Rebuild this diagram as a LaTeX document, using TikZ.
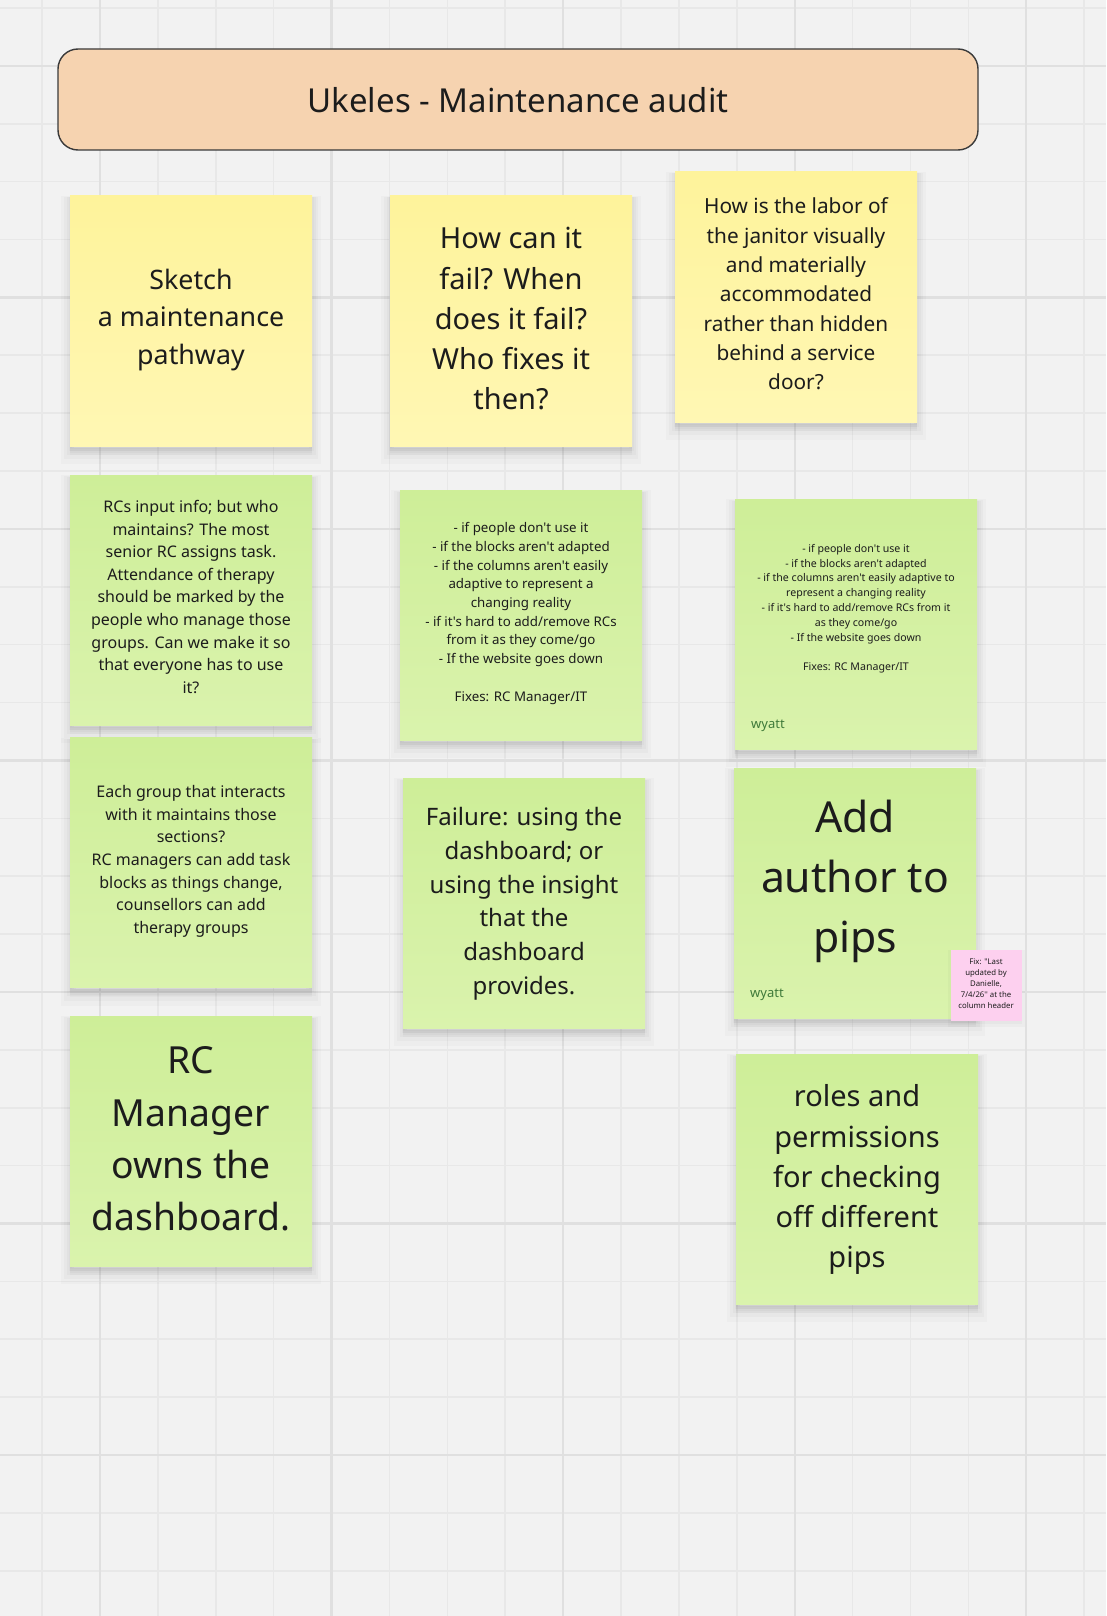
\documentclass[tikz,border=0pt]{standalone}
\usepackage{fontspec}
\newfontfamily\ns{Noto Sans}
\definecolor{bg}{HTML}{F2F2F2}
\definecolor{gridminor}{HTML}{E8E8E8}
\definecolor{gridmajor}{HTML}{E0E0E0}
\definecolor{peach}{HTML}{F6D3B0}
\definecolor{titleborder}{HTML}{3A3A3A}
\definecolor{ytop}{HTML}{FEF39B}
\definecolor{ybot}{HTML}{FFF7B4}
\definecolor{gtop}{HTML}{CEEE98}
\definecolor{gbot}{HTML}{DAF3AD}
\definecolor{pinkn}{HTML}{FDD0EF}
\definecolor{ink}{HTML}{1C1C1C}
\definecolor{authorcol}{HTML}{3F7A3A}
\tikzset{
  softshadow/.style={
    preaction={fill=black, fill opacity=0.02, draw=black, draw opacity=0.02, line width=18pt, transform canvas={yshift=-9pt}},
    preaction={fill=black, fill opacity=0.022, draw=black, draw opacity=0.022, line width=12pt, transform canvas={yshift=-7pt}},
    preaction={fill=black, fill opacity=0.022, draw=black, draw opacity=0.022, line width=7pt, transform canvas={yshift=-5pt}},
    preaction={fill=black, fill opacity=0.02, draw=black, draw opacity=0.02, line width=3pt, transform canvas={yshift=-3pt}}},
  stickybox/.style={minimum width=242pt, minimum height=250pt, inner sep=0pt, softshadow},
  yellownote/.style={stickybox, top color=ytop, bottom color=ybot},
  greennote/.style={stickybox, top color=gtop, bottom color=gbot},
  pinknote/.style={minimum width=71pt, minimum height=71pt, inner sep=0pt, fill=pinkn,
    preaction={fill=black, fill opacity=0.025, draw=black, draw opacity=0.025, line width=6pt, transform canvas={yshift=-3pt}}},
  notetext/.style={align=center, text=ink, inner sep=0pt,
    execute at begin node=\strut, execute at end node=\strut},
  authortext/.style={anchor=base west, text=authorcol, inner sep=0pt, font=\ns\fontsize{13}{16}\selectfont},
  titlebox/.style={draw=titleborder, line width=1.4pt, fill=peach, rounded corners=20pt,
    minimum width=920pt, minimum height=101pt, inner sep=0pt},
  minorline/.style={draw=gridminor, line width=1.6pt},
  majorline/.style={draw=gridmajor, line width=2.2pt},
}
\begin{document}
\begin{tikzpicture}[x=1pt,y=-1pt]
\path[use as bounding box, fill=bg] (0,0) rectangle (1106,1616);
% grid
\foreach \k in {0,...,18} {\pgfmathsetmacro\xx{42+57.9*\k}\draw[minorline] (\xx,0) -- (\xx,1616);}
\foreach \k in {0,...,27} {\pgfmathsetmacro\yy{8+57.88*\k}\draw[minorline] (0,\yy) -- (1106,\yy);}
\foreach \k in {1,5,9,13,17} {\pgfmathsetmacro\xx{42+57.9*\k}\draw[majorline] (\xx,0) -- (\xx,1616);}
\foreach \k in {1,5,9,13,17,21,25} {\pgfmathsetmacro\yy{8+57.88*\k}\draw[majorline] (0,\yy) -- (1106,\yy);}

% title
\node[titlebox] (title) at (518,99.5) {};
\node[anchor=base, inner sep=0pt, text=ink, font=\ns\fontsize{33}{40}\selectfont] (titletext) at (518,113) {Ukeles - Maintenance audit};

% yellow notes
\node[yellownote] (y1) at (191,321) {};
\node[notetext, font=\ns\fontsize{26.8}{37.6}\selectfont] (y1t) at (191,322.2) {Sketch\\a maintenance\\pathway};
\node[yellownote] (y2) at (511,321) {};
\node[notetext, font=\ns\fontsize{29}{40.2}\selectfont] (y2t) at (511,324.6) {How can it\\fail? When\\does it fail?\\Who fixes it\\then?};
\node[yellownote] (y3) at (796,297) {};
\node[notetext, font=\ns\fontsize{20.8}{29.3}\selectfont] (y3t) at (796,298.2) {How is the labor of\\the janitor visually\\and materially\\accommodated\\rather than hidden\\behind a service\\door?};

% green notes, left column
\node[greennote] (g1) at (191,600) {};
\node[notetext, font=\ns\fontsize{16}{22.6}\selectfont] (g1t) at (191,600.2) {RCs input info; but who\\maintains? The most\\senior RC assigns task.\\Attendance of therapy\\should be marked by the\\people who manage those\\groups. Can we make it so\\that everyone has to use\\it?};
\node[greennote] (g2) at (191,862.5) {};
\node[notetext, font=\ns\fontsize{16}{22.6}\selectfont] (g2t) at (191,862.7) {Each group that interacts\\with it maintains those\\sections?\\RC managers can add task\\blocks as things change,\\counsellors can add\\therapy groups};
\node[greennote] (g7) at (191,1141) {};
\node[notetext, font=\ns\fontsize{37.3}{52.2}\selectfont] (g7t) at (191,1146.5) {RC\\Manager\\owns the\\dashboard.};

% green notes, middle column
\node[greennote] (g3) at (521,615) {};
\node[notetext, font=\ns\fontsize{13.3}{18.67}\selectfont] (g3t) at (521,614.7) {- if people don't use it\\- if the blocks aren't adapted\\- if the columns aren't easily\\adaptive to represent a\\changing reality\\- if it's hard to add/remove RCs\\from it as they come/go\\- If the website goes down\\\mbox{}\\Fixes: RC Manager/IT};
\node[greennote] (g5) at (524,903) {};
\node[notetext, font=\ns\fontsize{24}{33.7}\selectfont] (g5t) at (524,905.8) {Failure: using the\\dashboard; or\\using the insight\\that the\\dashboard\\provides.};

% green notes, right column
\node[greennote] (g4) at (856,624) {};
\node[notetext, font=\ns\fontsize{10.6}{14.8}\selectfont] (g4t) at (856,609.6) {- if people don't use it\\- if the blocks aren't adapted\\- if the columns aren't easily adaptive to\\represent a changing reality\\- if it's hard to add/remove RCs from it\\as they come/go\\- If the website goes down\\\mbox{}\\Fixes: RC Manager/IT};
\node[authortext] (g4a) at (751,728) {wyatt};
\node[greennote] (g6) at (855,893) {};
\node[notetext, font=\ns\fontsize{42.7}{59.8}\selectfont] (g6t) at (855,885.5) {Add\\author to\\pips};
\node[authortext] (g6a) at (750,997) {wyatt};
\node[pinknote] (p1) at (986,985) {};
\node[notetext, font=\ns\fontsize{7.8}{11}\selectfont] (p1t) at (986,985.6) {Fix: "Last\\updated by\\Danielle,\\7/4/26'' at the\\column header};
\node[greennote] (g8) at (857,1179) {};
\node[notetext, font=\ns\fontsize{29}{40.2}\selectfont] (g8t) at (857,1182.2) {roles and\\permissions\\for checking\\off different\\pips};
\end{tikzpicture}
\end{document}
